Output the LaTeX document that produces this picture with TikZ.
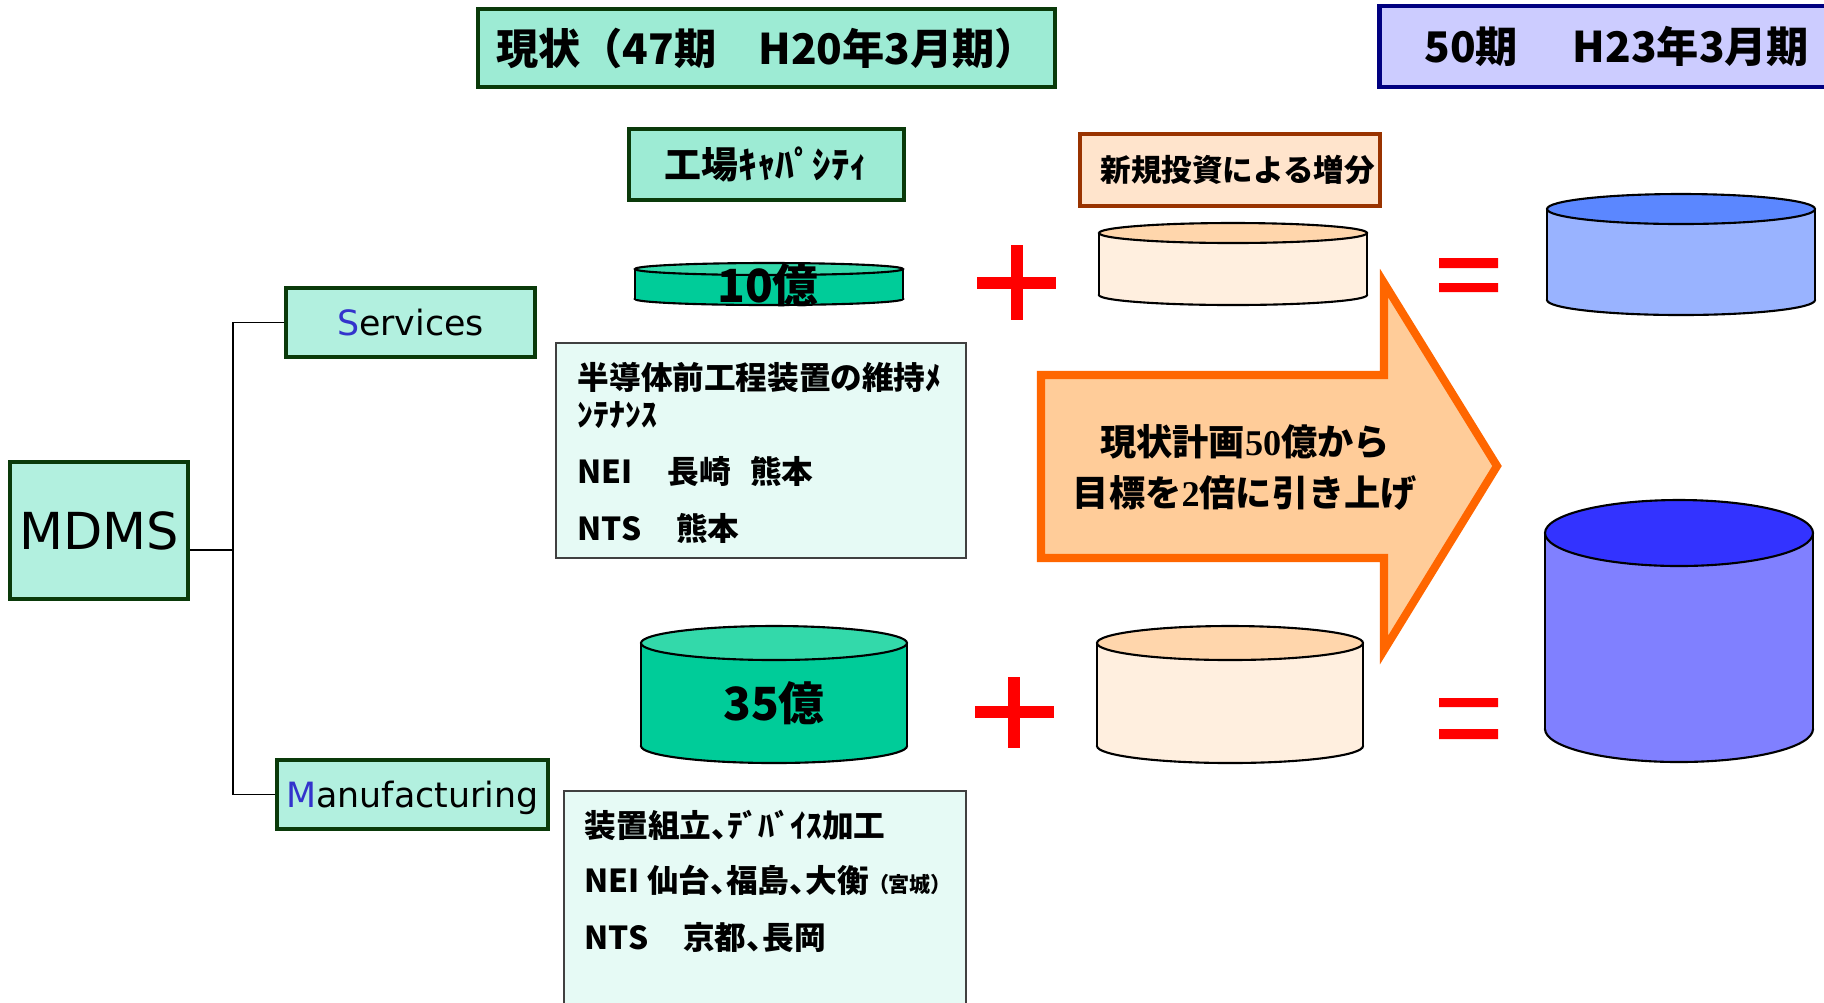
\documentclass[tikz,border=0pt]{standalone}
\usepackage{fontspec}
\setmainfont{Noto Sans CJK JP}
\newfontfamily\latinfont{DejaVu Sans}
\newfontfamily\numfont{Liberation Serif}
\newfontfamily\propfont{Noto Sans CJK JP}[RawFeature=+palt]
\usetikzlibrary{positioning}
\definecolor{mint}{HTML}{9DEBD4}
\definecolor{palemint}{HTML}{B2F0DF}
\definecolor{icemint}{HTML}{E6FAF5}
\definecolor{darkgreen}{HTML}{0A3A0A}
\definecolor{navy}{HTML}{000080}
\definecolor{lavender}{HTML}{CCCCFF}
\definecolor{peach}{HTML}{FFE4CC}
\definecolor{rust}{HTML}{993300}
\definecolor{drumgreen}{HTML}{00CC99}
\definecolor{drumgreentop}{HTML}{33D9AA}
\definecolor{drumpeach}{HTML}{FFEFDF}
\definecolor{drumpeachtop}{HTML}{FFD6AC}
\definecolor{drumsky}{HTML}{99B3FF}
\definecolor{drumskytop}{HTML}{5B87FF}
\definecolor{drumblue}{HTML}{8080FF}
\definecolor{drumbluetop}{HTML}{3333FF}
\definecolor{arrowfill}{HTML}{FFCC99}
\definecolor{arroworange}{HTML}{FF6600}
\definecolor{initial}{HTML}{3333CC}
\newcommand{\drum}[7]{%
  \fill[#6] (#1,#3) ellipse ({#4*0.01cm} and {#5*0.01cm});
  \draw[line width=0.6pt] (#1,#3) ellipse ({#4*0.01cm} and {#5*0.01cm});
  \fill[#6] ({#1-#4},#2) rectangle ({#1+#4},#3);
  \draw[line width=0.6pt] ({#1-#4},#2) -- ({#1-#4},#3) ({#1+#4},#2) -- ({#1+#4},#3);
  \filldraw[fill=#7,line width=0.6pt] (#1,#2) ellipse ({#4*0.01cm} and {#5*0.01cm});}
\begin{document}
\begin{tikzpicture}[x=0.01cm,y=-0.01cm,
    titlebox/.style={draw=darkgreen,line width=1.3pt,fill=mint,inner sep=0pt,
      font=\bfseries\fontsize{12pt}{12pt}\selectfont},
    unitbox/.style={draw=darkgreen,line width=1.3pt,fill=palemint,inner sep=0pt,
      text depth=0pt,font=\latinfont\fontsize{9.9pt}{9.9pt}\selectfont},
    notebox/.style={draw=black!75,line width=0.5pt,fill=icemint},
    noteline/.style={anchor=west,inner sep=0pt,text height=0.88em,text depth=0.12em,
      font=\propfont\bfseries\fontsize{9pt}{9pt}\selectfont},
    amount/.style={inner sep=0pt,font=\bfseries\fontsize{13pt}{13pt}\selectfont},
    wire/.style={line width=0.5pt},
    plussign/.style={red,line width=3.4pt},
    eqbar/.style={fill=red}]
  \clip (0,0) rectangle (1824,1002);
  \fill[white] (0,0) rectangle (1824,1002);

  \node[titlebox,minimum width=5.77cm,minimum height=0.78cm] (now) at (766.5,48)
    {現状（47期\hspace{1em}H20年3月期）};
  \node[titlebox,draw=navy,fill=lavender,anchor=west,inner xsep=0.45cm,
    text width=4.6cm,align=left,minimum height=0.81cm] (target) at (1377,46.5)
    {50期\hspace{1.3em}H23年3月期};
  \node[titlebox,minimum width=2.75cm,minimum height=0.71cm,
    font=\bfseries\fontsize{10.5pt}{10.5pt}\selectfont] (capacity) at (766.5,164.5)
    {工場ｷｬﾊﾟｼﾃｨ};
  \node[titlebox,draw=rust,fill=peach,minimum width=3.0cm,minimum height=0.72cm,
    font=\bfseries\fontsize{8.7pt}{8.7pt}\selectfont] (increase) at (1230,170)
    {\hspace{0.5em}新規投資による増分};

  \node[unitbox,minimum width=1.78cm,minimum height=1.37cm,
    font=\latinfont\fontsize{14.5pt}{14.5pt}\selectfont] (mdms) at (99,530.5) {MDMS};
  \node[unitbox,minimum width=2.49cm,minimum height=0.69cm] (services) at (410.5,322.5)
    {{\color{initial}S}ervices};
  \node[unitbox,minimum width=2.71cm,minimum height=0.69cm] (manufacturing) at (412.5,794.5)
    {{\color{initial}M}anufacturing};
  \coordinate (fork) at (233,550);
  \draw[wire] (mdms.east |- fork) -- (fork);
  \draw[wire] (services.west) -| (fork) |- (manufacturing.west);

  \node[notebox,minimum width=4.10cm,minimum height=2.15cm] (svcnote) at (761,450.5) {};
  \node[noteline] (svc1) at (577,376) {半導体前工程装置の維持ﾒ};
  \node[noteline] (svc2) at (577,413) {ﾝﾃﾅﾝｽ};
  \node[noteline] (svc3) at (577,470) {NEI\hspace{1.1em}長崎\hspace{0.6em}熊本};
  \node[noteline] (svc4) at (577,527) {NTS\hspace{1.1em}熊本};
  \node[notebox,minimum width=4.02cm,minimum height=2.3cm] (mfgnote) at (765,906) {};
  \node[noteline] (mfg1) at (584,824) {装置組立、ﾃﾞﾊﾞｲｽ加工};
  \node[noteline] (mfg2) at (584,879)
    {NEI 仙台、福島、大衡\hspace{0.3em}{\fontsize{6pt}{6pt}\selectfont（宮城）}};
  \node[noteline] (mfg3) at (584,936) {NTS\hspace{1.1em}京都、長岡};

  \drum{769}{269}{299}{134}{6}{drumgreen}{drumgreentop}
  \drum{1233}{233}{295}{134}{10}{drumpeach}{drumpeachtop}
  \drum{1681}{209}{300}{134}{15}{drumsky}{drumskytop}
  \drum{774}{643}{746}{133}{17}{drumgreen}{drumgreentop}
  \drum{1230}{643}{746}{133}{17}{drumpeach}{drumpeachtop}
  \drum{1679}{533}{729}{134}{33}{drumblue}{drumbluetop}
  \node[amount] (small) at (768,285) {10億};
  \node[amount] (large) at (774,703) {35億};

  \draw[plussign] (977,283) -- (1056,283) (1017,245) -- (1017,320);
  \draw[plussign] (975,712) -- (1054,712) (1014,677) -- (1014,748);
  \fill[eqbar] (1439,258) rectangle (1498,268) (1439,283) rectangle (1498,292);
  \fill[eqbar] (1439,698) rectangle (1498,707) (1439,729) rectangle (1498,739);

  \filldraw[fill=arrowfill,draw=arroworange,line width=2.3pt,line join=miter]
    (1041,375) -- (1384,375) -- (1384,283) -- (1497,466) -- (1384,650)
    -- (1384,558) -- (1041,558) -- cycle;
  \node[align=center,inner sep=0pt,font=\bfseries\fontsize{10.3pt}{14.5pt}\selectfont]
    (plan) at (1245,467)
    {現状計画{\numfont 50}億から\\目標を{\numfont 2}倍に引き上げ};
\end{tikzpicture}
\end{document}
